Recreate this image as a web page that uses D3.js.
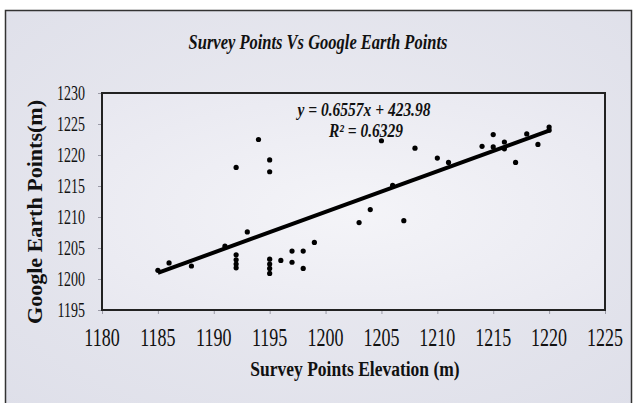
<!DOCTYPE html>
<html>
<head>
<meta charset="utf-8">
<script src="https://cdn.jsdelivr.net/npm/d3@7"></script>
<style>
  html, body { margin: 0; padding: 0; background: #ffffff; }
  svg { display: block; }
  text { font-family: "Liberation Serif", "Times New Roman", serif; fill: #111; }
</style>
</head>
<body>
<svg id="chart" width="637" height="403"></svg>
<script>
// ---- data ----
const surveyElevation = [1185, 1186, 1188, 1191, 1192, 1192, 1192, 1192, 1192, 1193,
  1194, 1195, 1195, 1195, 1195, 1195, 1195, 1196, 1197, 1197,
  1198, 1198, 1199, 1203, 1204, 1205, 1206, 1207, 1208, 1210,
  1211, 1214, 1215, 1215, 1216, 1216, 1217, 1218, 1219, 1220, 1220];
const googleEarth = [1201.4, 1202.6, 1202.1, 1205.3, 1218.0, 1203.9, 1203.1, 1202.4, 1201.8, 1207.6,
  1222.5, 1219.2, 1217.3, 1203.2, 1202.4, 1201.7, 1200.9, 1203.0, 1204.5, 1202.7,
  1204.5, 1201.7, 1205.9, 1209.1, 1211.2, 1222.3, 1215.1, 1209.4, 1221.1, 1219.5,
  1218.8, 1221.4, 1223.3, 1221.3, 1222.1, 1221.0, 1218.8, 1223.4, 1221.7, 1224.5, 1224.0];
const trendSlope = 0.6557;
const trendIntercept = 423.98;
const trendRange = [1185, 1220];
const xTicks = [1180, 1185, 1190, 1195, 1200, 1205, 1210, 1215, 1220, 1225];
const yTicks = [1195, 1200, 1205, 1210, 1215, 1220, 1225, 1230];
const titleText = "Survey Points Vs Google Earth Points";
const xTitle = "Survey Points Elevation (m)";
const yTitle = "Google Earth Points(m)";
const equationText = "y = 0.6557x + 423.98";
const r2Text = "R² = 0.6329";

// ---- drawing ----
const svg = d3.select("#chart");
const plot = { left: 102, right: 605, top: 93, bottom: 310 };

const x = d3.scaleLinear().domain([1180, 1225]).range([plot.left, plot.right]);
const y = d3.scaleLinear().domain([1195, 1230]).range([plot.bottom, plot.top]);

const defs = svg.append("defs");
const g1 = defs.append("radialGradient").attr("id", "bg").attr("cx", "50%").attr("cy", "45%").attr("r", "75%");
g1.append("stop").attr("offset", "0%").attr("stop-color", "#ececf2");
g1.append("stop").attr("offset", "100%").attr("stop-color", "#dedfe9");
const g2 = defs.append("radialGradient").attr("id", "pbg").attr("cx", "50%").attr("cy", "55%").attr("r", "70%");
g2.append("stop").attr("offset", "0%").attr("stop-color", "#f4f4f8");
g2.append("stop").attr("offset", "100%").attr("stop-color", "#e8e8f0");

// outer chart area
svg.append("rect").attr("x", 5.5).attr("y", 10.5).attr("width", 626).attr("height", 400)
  .attr("fill", "url(#bg)").attr("stroke", "#333").attr("stroke-width", 1.5);

// plot area
svg.append("rect").attr("x", plot.left).attr("y", plot.top)
  .attr("width", plot.right - plot.left).attr("height", plot.bottom - plot.top)
  .attr("fill", "url(#pbg)");

// helper for vertically stretched text
function stretchedText(sel, tx, ty, sy, str, size, opts) {
  const t = sel.append("text")
    .attr("transform", `translate(${tx},${ty}) scale(1,${sy})`)
    .attr("font-size", size)
    .attr("text-anchor", opts.anchor || "middle")
    .attr("dominant-baseline", "central")
    .attr("font-weight", opts.weight || "normal")
    .attr("font-style", opts.style || "normal")
    .text(str);
  return t;
}

// axes (ticks via d3 axis)
const xAxis = d3.axisBottom(x).tickValues(xTicks).tickSize(4).tickFormat("");
const yAxis = d3.axisLeft(y).tickValues(yTicks).tickSize(4).tickFormat("");
const gx = svg.append("g").attr("transform", `translate(0,${plot.bottom})`).call(xAxis);
const gy = svg.append("g").attr("transform", `translate(${plot.left},0)`).call(yAxis);
[gx, gy].forEach(g => {
  g.select(".domain").remove();
  g.selectAll(".tick line").attr("stroke", "#9a9aa6").attr("stroke-width", 1);
});

// tick labels
const xl = svg.append("g");
xTicks.forEach(v => stretchedText(xl, x(v), 338, 1.35, String(v), 18, {}));
const yl = svg.append("g");
yTicks.forEach(v => stretchedText(yl, 85, y(v), 1.5, String(v), 14, { anchor: "end" }));

// plot frame
svg.append("rect").attr("x", plot.left).attr("y", plot.top)
  .attr("width", plot.right - plot.left).attr("height", plot.bottom - plot.top)
  .attr("fill", "none").attr("stroke", "#222").attr("stroke-width", 2);

// points
const pts = surveyElevation.map((v, i) => ({ sx: v, gy: googleEarth[i] }));
svg.append("g").selectAll("circle").data(pts).join("circle")
  .attr("cx", d => x(d.sx)).attr("cy", d => y(d.gy)).attr("r", 2.6)
  .attr("fill", "#000");

// trend line
const trend = trendRange.map(v => ({ sx: v, gy: trendSlope * v + trendIntercept }));
svg.append("path").datum(trend)
  .attr("d", d3.line().x(d => x(d.sx)).y(d => y(d.gy)))
  .attr("stroke", "#000").attr("stroke-width", 4).attr("fill", "none")
  .attr("stroke-linecap", "butt");

// equation
stretchedText(svg, 364, 110, 1.2, equationText, 15.5, { weight: "bold", style: "italic" });
stretchedText(svg, 366, 131, 1.2, r2Text, 15.5, { weight: "bold", style: "italic" });

// title
stretchedText(svg, 318, 42, 1.3, titleText, 16.5, { weight: "bold", style: "italic" });

// axis titles
stretchedText(svg, 355, 369, 1.2, xTitle, 17.5, { weight: "bold" });
svg.append("text")
  .attr("transform", `translate(35,212) rotate(-90) scale(1.05,1)`)
  .attr("font-size", 21).attr("font-weight", "bold")
  .attr("text-anchor", "middle").attr("dominant-baseline", "central")
  .text(yTitle);
</script>
</body>
</html>
